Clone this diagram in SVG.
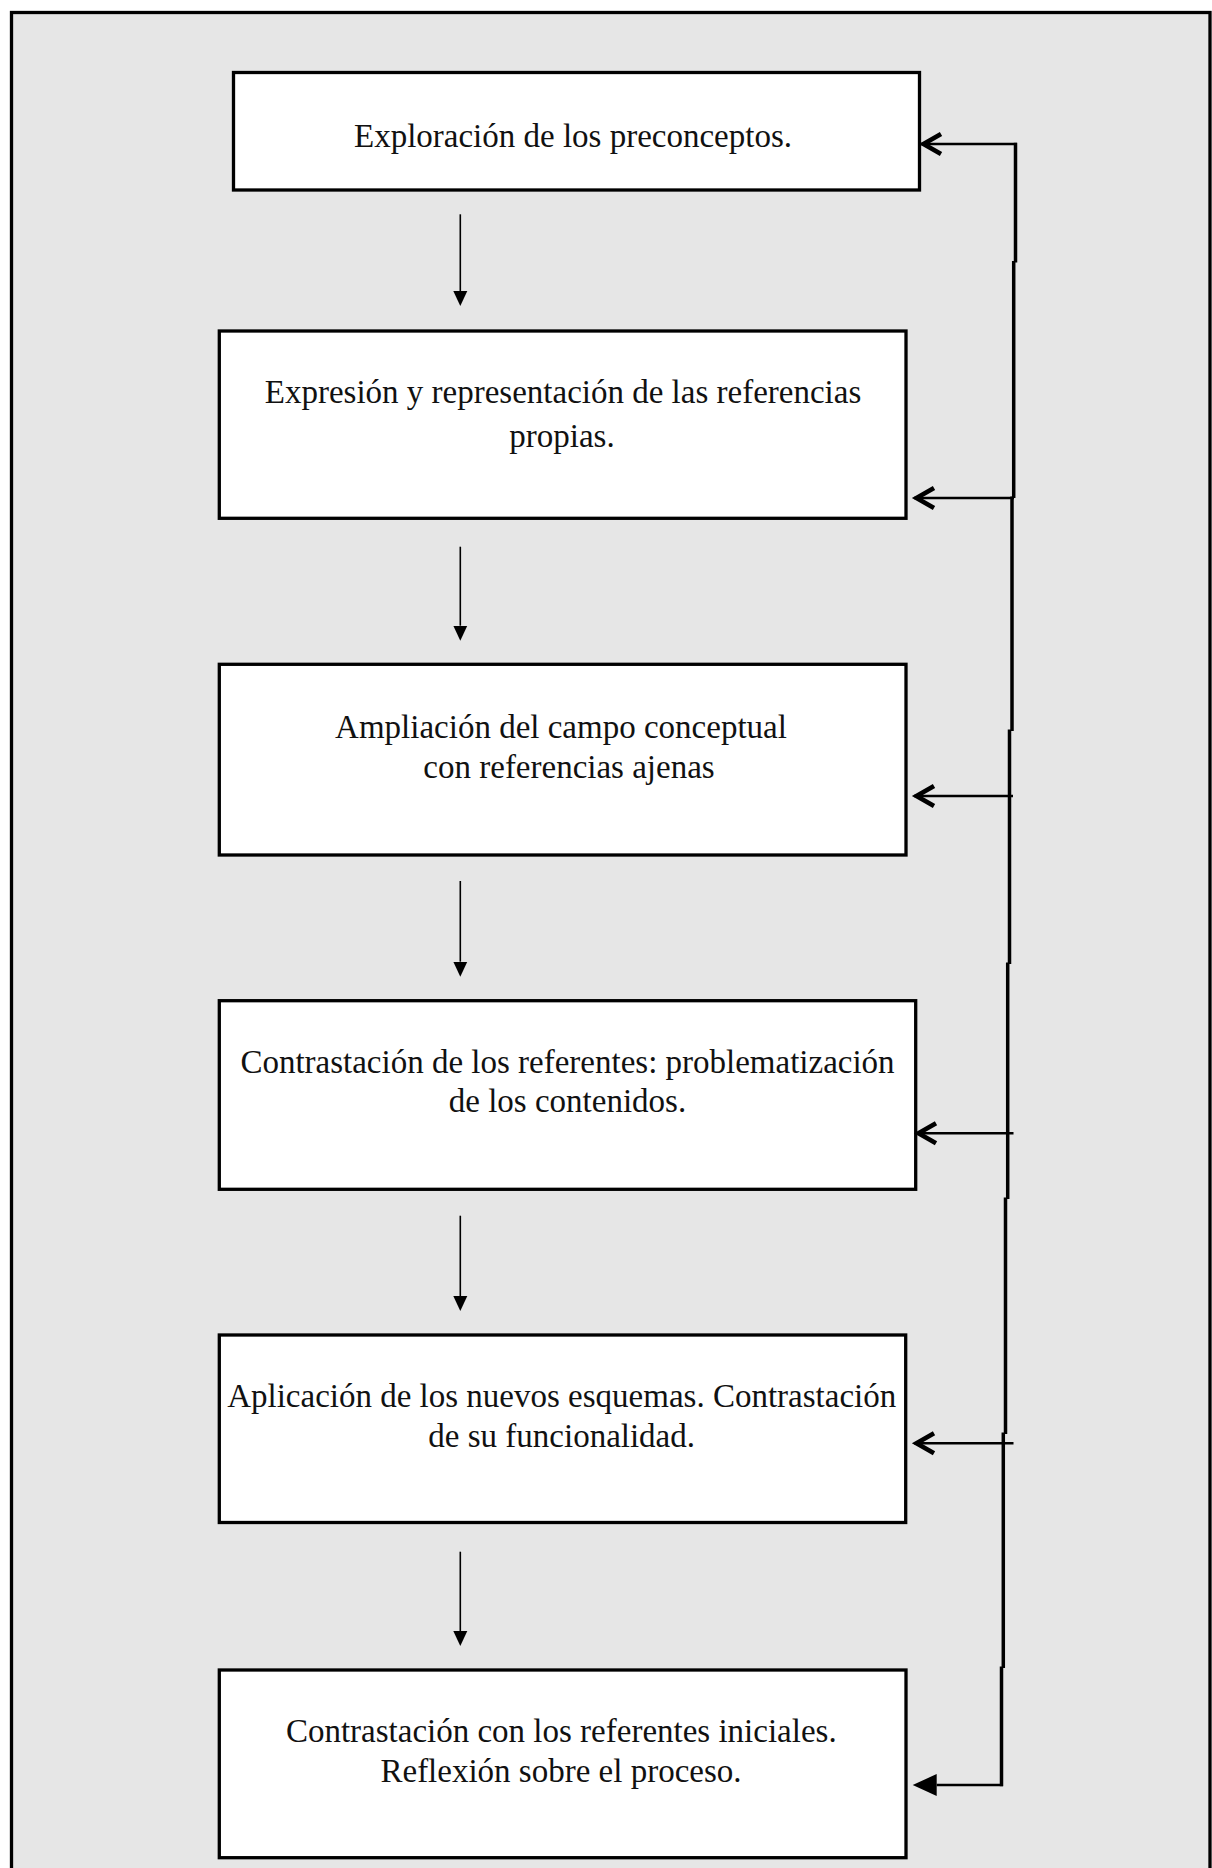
<svg xmlns="http://www.w3.org/2000/svg" width="1212" height="1868" viewBox="0 0 1212 1868">
<style>
.bg{fill:#e6e6e6;stroke:#000;stroke-width:3.3}
.box{fill:#fff;stroke:#000;stroke-width:3.3}
.t{font-family:"Liberation Serif","Times New Roman",serif;font-size:33px;fill:#111;text-anchor:middle}
.down{stroke:#000;stroke-width:1.6;fill:none}
.vert{stroke:#000;stroke-width:3.5;fill:none}
.fb{stroke:#000;stroke-width:2.4;fill:none}
</style>
<defs>
<marker id="ahDown" markerUnits="userSpaceOnUse" viewBox="0 -8 16 16" markerWidth="16" markerHeight="16" refX="0" refY="0" orient="auto">
<path d="M0,-7 L15,0 L0,7 z" fill="#000"/>
</marker>
<marker id="ahOpen" markerUnits="userSpaceOnUse" viewBox="-26 -14 30 28" markerWidth="30" markerHeight="28" refX="0" refY="0" orient="auto">
<path d="M-20,-10 L-2.5,0 L-20,10" fill="none" stroke="#000" stroke-width="4.6"/>
</marker>
<marker id="ahSolid" markerUnits="userSpaceOnUse" viewBox="0 -12 26 24" markerWidth="26" markerHeight="24" refX="0" refY="0" orient="auto">
<path d="M0,-11 L24,0 L0,11 z" fill="#000"/>
</marker>
</defs>
<rect width="1212" height="1868" fill="#fff"/>
<rect id="frame" class="bg" x="11.5" y="12.5" width="1198.5" height="1900"/>

<g id="node1">
<rect class="box" x="233.5" y="72.5" width="686" height="117.5"/>
<text class="t" x="573" y="147">Exploración de los preconceptos.</text>
</g>
<g id="node2">
<rect class="box" x="219.3" y="331" width="686.7" height="187.3"/>
<text class="t" x="563" y="403">Expresión y representación de las referencias</text>
<text class="t" x="562" y="447">propias.</text>
</g>
<g id="node3">
<rect class="box" x="219.3" y="664.3" width="686.7" height="190.7"/>
<text class="t" x="561" y="738">Ampliación del campo conceptual</text>
<text class="t" x="569" y="777.5">con referencias ajenas</text>
</g>
<g id="node4">
<rect class="box" x="219.3" y="1000.7" width="696.4" height="188.6"/>
<text class="t" x="567.5" y="1073">Contrastación de los referentes: problematización</text>
<text class="t" x="567.5" y="1112">de los contenidos.</text>
</g>
<g id="node5">
<rect class="box" x="219.3" y="1335" width="686.4" height="187.5"/>
<text class="t" x="561.7" y="1407">Aplicación de los nuevos esquemas. Contrastación</text>
<text class="t" x="561.7" y="1446.5">de su funcionalidad.</text>
</g>
<g id="node6">
<rect class="box" x="219.3" y="1670" width="686.7" height="187.7"/>
<text class="t" x="561.3" y="1741.5">Contrastación con los referentes iniciales.</text>
<text class="t" x="561" y="1781.5">Reflexión sobre el proceso.</text>
</g>

<g id="connectors">
<line class="down" x1="460.3" y1="214.3" x2="460.3" y2="291" marker-end="url(#ahDown)"/>
<line class="down" x1="460.3" y1="546.7" x2="460.3" y2="625.7" marker-end="url(#ahDown)"/>
<line class="down" x1="460.3" y1="881" x2="460.3" y2="961.7" marker-end="url(#ahDown)"/>
<line class="down" x1="460.3" y1="1215.7" x2="460.3" y2="1296" marker-end="url(#ahDown)"/>
<line class="down" x1="460.3" y1="1551.7" x2="460.3" y2="1631" marker-end="url(#ahDown)"/>

<g id="feedback-spine">
<line class="vert" x1="1015.5" y1="142.8" x2="1015.5" y2="262.5"/>
<line class="vert" x1="1013.7" y1="261" x2="1013.7" y2="498"/>
<line class="vert" x1="1012" y1="496.5" x2="1012" y2="731"/>
<line class="vert" x1="1009.5" y1="729.5" x2="1009.5" y2="964"/>
<line class="vert" x1="1007.7" y1="962.5" x2="1007.7" y2="1199"/>
<line class="vert" x1="1005.5" y1="1197.5" x2="1005.5" y2="1434"/>
<line class="vert" x1="1003.3" y1="1432.5" x2="1003.3" y2="1668"/>
<line class="vert" x1="1001.5" y1="1666.5" x2="1001.5" y2="1786.2"/>
</g>
<line class="fb" x1="1017" y1="144" x2="921" y2="144" marker-end="url(#ahOpen)"/>
<line class="fb" x1="1014" y1="498" x2="914" y2="498" marker-end="url(#ahOpen)"/>
<line class="fb" x1="1013" y1="796" x2="914" y2="796" marker-end="url(#ahOpen)"/>
<line class="fb" x1="1013.5" y1="1133.3" x2="916" y2="1133.3" marker-end="url(#ahOpen)"/>
<line class="fb" x1="1013.5" y1="1443.3" x2="914" y2="1443.3" marker-end="url(#ahOpen)"/>
<line class="fb" x1="1003" y1="1785" x2="936.7" y2="1785" marker-end="url(#ahSolid)"/>
</g>
</svg>
